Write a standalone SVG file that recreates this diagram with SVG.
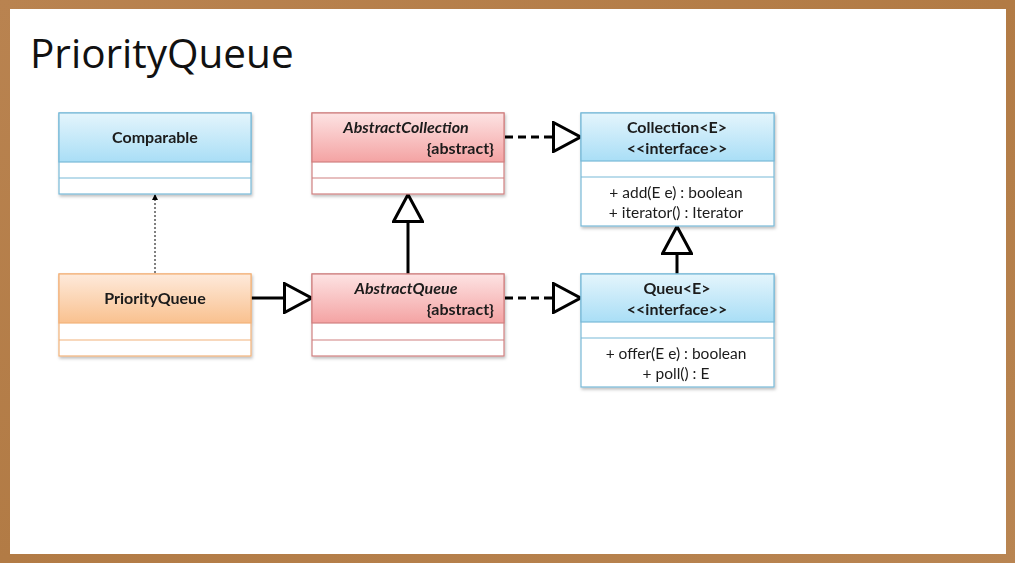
<svg xmlns="http://www.w3.org/2000/svg" width="1015" height="563" viewBox="0 0 1015 563">
<defs>
<linearGradient id="gBlue" x1="0" y1="0" x2="0" y2="1"><stop offset="0" stop-color="#e4f5fc"/><stop offset="1" stop-color="#a9def6"/></linearGradient>
<linearGradient id="gRed" x1="0" y1="0" x2="0" y2="1"><stop offset="0" stop-color="#fde3e3"/><stop offset="1" stop-color="#f4a3a3"/></linearGradient>
<linearGradient id="gOrange" x1="0" y1="0" x2="0" y2="1"><stop offset="0" stop-color="#feeadb"/><stop offset="1" stop-color="#f9c18f"/></linearGradient>
<linearGradient id="gFrame" x1="0" y1="0" x2="1" y2="1"><stop offset="0" stop-color="#b98350"/><stop offset="0.5" stop-color="#b27b45"/><stop offset="1" stop-color="#b98552"/></linearGradient>
<filter id="sh" x="-5%" y="-5%" width="112%" height="115%"><feDropShadow dx="1" dy="2" stdDeviation="1.5" flood-color="#000" flood-opacity="0.25"/></filter>
<marker id="hollow" viewBox="0 0 30 32" refX="29" refY="16" markerWidth="30" markerHeight="32" markerUnits="userSpaceOnUse" orient="auto"><path d="M1.5,1.5 L28.5,16 L1.5,30.5 Z" fill="#fff" stroke="#000" stroke-width="3" stroke-linejoin="miter"/></marker>
<marker id="small" viewBox="0 0 6 6" refX="5" refY="3" markerWidth="6" markerHeight="6" markerUnits="userSpaceOnUse" orient="auto"><path d="M0,0 L6,3 L0,6 Z" fill="#000"/></marker>
</defs>
<style>
.title{font-family:"Open Sans","Noto Sans",sans-serif;font-size:40.5px;fill:#111}
.nm{font-family:Lato,"Open Sans",sans-serif;font-size:16px;font-weight:bold;fill:#1a1a1a}
.it{font-style:italic}
.op{font-family:Lato,"Open Sans",sans-serif;font-size:15.5px;fill:#1a1a1a}
.row{fill:#fff}
.blue{stroke:#78b9d8;stroke-width:1.2}
.red{stroke:#d08080;stroke-width:1.2}
.orange{stroke:#f2b27a;stroke-width:1.2}
.line{stroke:#000;stroke-width:3;fill:none}
.dash{stroke-dasharray:8,5}
</style>
<rect x="0" y="0" width="1015" height="563" fill="url(#gFrame)"/>
<rect x="10" y="9" width="996" height="545" fill="#fff"/>
<text class="title" x="30" y="68">PriorityQueue</text>

<g id="connectors">
<line x1="155" y1="273" x2="155" y2="195" stroke="#000" stroke-width="1" stroke-dasharray="2,2" marker-end="url(#small)"/>
<line class="line" x1="251" y1="298" x2="312" y2="298" marker-end="url(#hollow)"/>
<line class="line" x1="408" y1="274" x2="408" y2="194" marker-end="url(#hollow)"/>
<line class="line dash" x1="505" y1="137" x2="581" y2="137" marker-end="url(#hollow)"/>
<line class="line dash" x1="505" y1="298" x2="581" y2="298" marker-end="url(#hollow)"/>
<line class="line" x1="677" y1="274" x2="677" y2="226" marker-end="url(#hollow)"/>
</g>

<g id="comparable" filter="url(#sh)">
<rect x="59" y="113" width="192" height="81" class="row blue"/>
<rect x="59" y="113" width="192" height="49" fill="url(#gBlue)" class="blue"/>
<line x1="59" y1="178" x2="251" y2="178" class="blue"/>
<text class="nm" x="155" y="143" text-anchor="middle">Comparable</text>
</g>

<g id="abstractcollection" filter="url(#sh)">
<rect x="312" y="113" width="192" height="81" class="row red"/>
<rect x="312" y="113" width="192" height="49" fill="url(#gRed)" class="red"/>
<line x1="312" y1="178" x2="504" y2="178" class="red"/>
<text class="nm it" x="406" y="133" text-anchor="middle">AbstractCollection</text>
<text class="nm" x="494" y="154" text-anchor="end">{abstract}</text>
</g>

<g id="collection" filter="url(#sh)">
<rect x="581" y="113" width="193" height="113" class="row blue"/>
<rect x="581" y="113" width="193" height="48" fill="url(#gBlue)" class="blue"/>
<line x1="581" y1="177" x2="774" y2="177" class="blue"/>
<text class="nm" x="677" y="133" text-anchor="middle">Collection&lt;E&gt;</text>
<text class="nm" x="677" y="154" text-anchor="middle">&lt;&lt;interface&gt;&gt;</text>
<text class="op" x="676" y="198" text-anchor="middle">+ add(E e) : boolean</text>
<text class="op" x="676" y="218" text-anchor="middle">+ iterator() : Iterator</text>
</g>

<g id="priorityqueue" filter="url(#sh)">
<rect x="59" y="274" width="192" height="82" class="row orange"/>
<rect x="59" y="274" width="192" height="49" fill="url(#gOrange)" class="orange"/>
<line x1="59" y1="340" x2="251" y2="340" class="orange"/>
<text class="nm" x="155" y="304" text-anchor="middle">PriorityQueue</text>
</g>

<g id="abstractqueue" filter="url(#sh)">
<rect x="312" y="274" width="192" height="82" class="row red"/>
<rect x="312" y="274" width="192" height="49" fill="url(#gRed)" class="red"/>
<line x1="312" y1="340" x2="504" y2="340" class="red"/>
<text class="nm it" x="406" y="294" text-anchor="middle">AbstractQueue</text>
<text class="nm" x="494" y="315" text-anchor="end">{abstract}</text>
</g>

<g id="queue" filter="url(#sh)">
<rect x="581" y="274" width="193" height="113" class="row blue"/>
<rect x="581" y="274" width="193" height="48" fill="url(#gBlue)" class="blue"/>
<line x1="581" y1="338" x2="774" y2="338" class="blue"/>
<text class="nm" x="677" y="294" text-anchor="middle">Queu&lt;E&gt;</text>
<text class="nm" x="677" y="315" text-anchor="middle">&lt;&lt;interface&gt;&gt;</text>
<text class="op" x="676" y="359" text-anchor="middle">+ offer(E e) : boolean</text>
<text class="op" x="676" y="379" text-anchor="middle">+ poll() : E</text>
</g>
</svg>
